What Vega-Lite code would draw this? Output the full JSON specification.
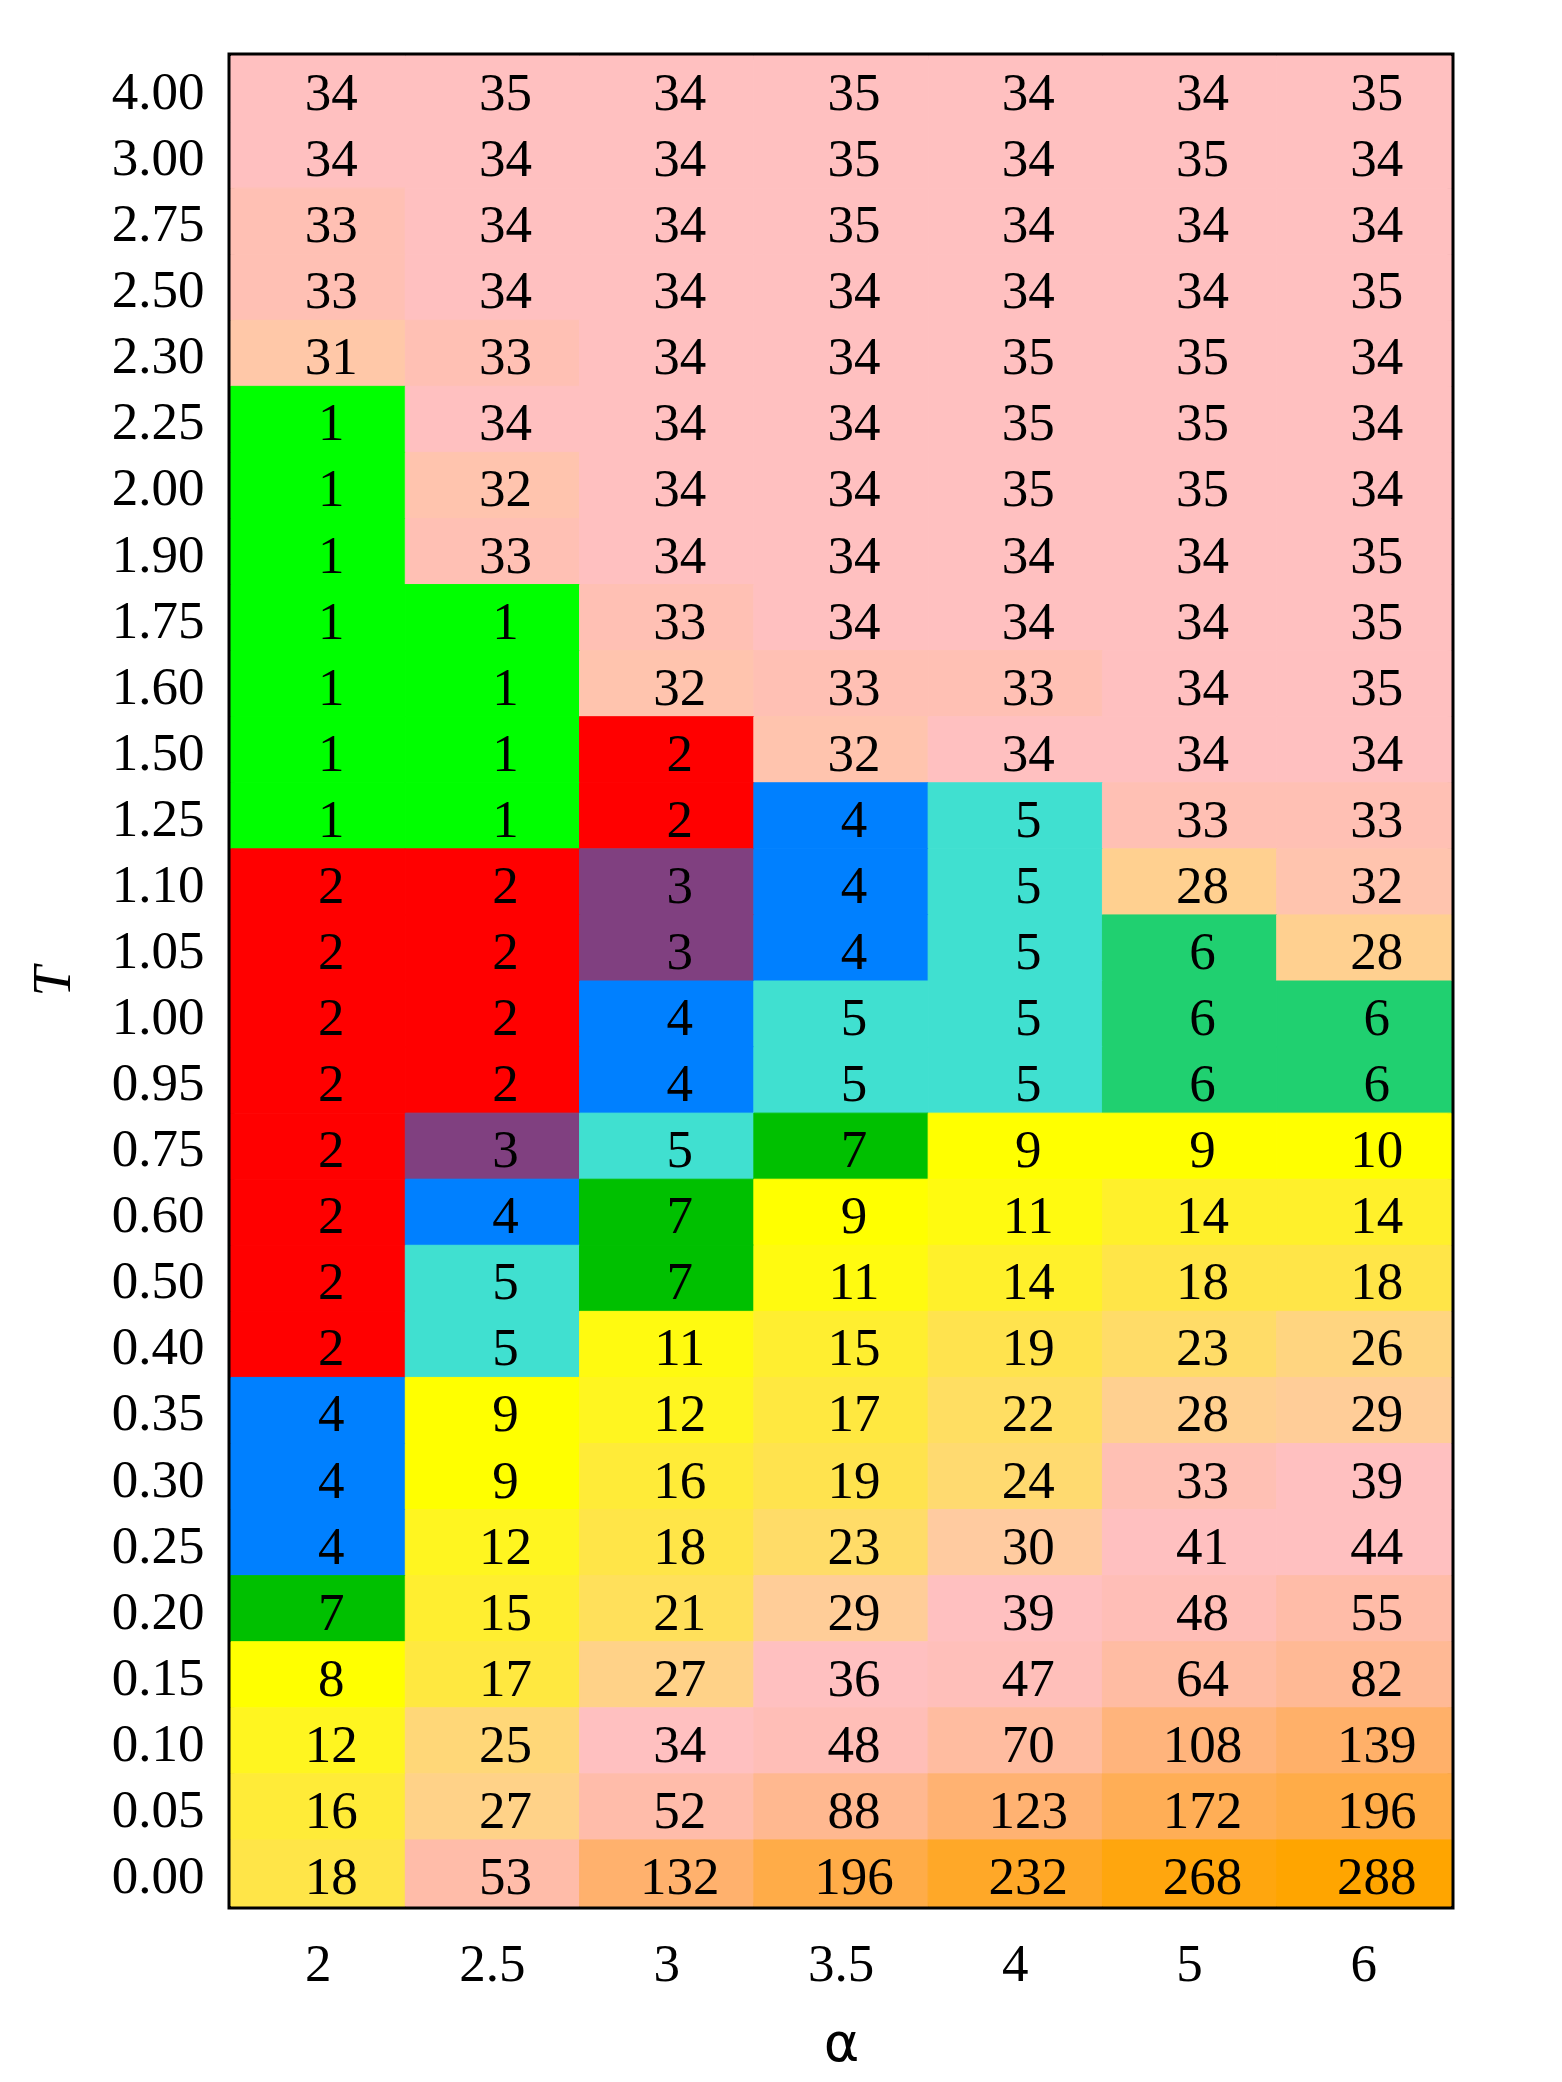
{
  "$schema": "https://vega.github.io/schema/vega-lite/v6.json",
  "width": 1220,
  "height": 1850,
  "autosize": {"type": "none"},
  "padding": {"left": 231, "top": 56, "right": 111, "bottom": 176},
  "background": "white",
  "config": {
    "view": {"stroke": "black", "strokeWidth": 7},
    "axis": {"labelFont": "Liberation Serif", "labelFontSize": 53, "labelColor": "black", "domain": false, "ticks": false, "grid": false, "titleColor": "black"}
  },
  "data": {"values": [
    {"T":"4.00","a":"2","v":34},{"T":"4.00","a":"2.5","v":35},{"T":"4.00","a":"3","v":34},{"T":"4.00","a":"3.5","v":35},{"T":"4.00","a":"4","v":34},{"T":"4.00","a":"5","v":34},{"T":"4.00","a":"6","v":35},
    {"T":"3.00","a":"2","v":34},{"T":"3.00","a":"2.5","v":34},{"T":"3.00","a":"3","v":34},{"T":"3.00","a":"3.5","v":35},{"T":"3.00","a":"4","v":34},{"T":"3.00","a":"5","v":35},{"T":"3.00","a":"6","v":34},
    {"T":"2.75","a":"2","v":33},{"T":"2.75","a":"2.5","v":34},{"T":"2.75","a":"3","v":34},{"T":"2.75","a":"3.5","v":35},{"T":"2.75","a":"4","v":34},{"T":"2.75","a":"5","v":34},{"T":"2.75","a":"6","v":34},
    {"T":"2.50","a":"2","v":33},{"T":"2.50","a":"2.5","v":34},{"T":"2.50","a":"3","v":34},{"T":"2.50","a":"3.5","v":34},{"T":"2.50","a":"4","v":34},{"T":"2.50","a":"5","v":34},{"T":"2.50","a":"6","v":35},
    {"T":"2.30","a":"2","v":31},{"T":"2.30","a":"2.5","v":33},{"T":"2.30","a":"3","v":34},{"T":"2.30","a":"3.5","v":34},{"T":"2.30","a":"4","v":35},{"T":"2.30","a":"5","v":35},{"T":"2.30","a":"6","v":34},
    {"T":"2.25","a":"2","v":1},{"T":"2.25","a":"2.5","v":34},{"T":"2.25","a":"3","v":34},{"T":"2.25","a":"3.5","v":34},{"T":"2.25","a":"4","v":35},{"T":"2.25","a":"5","v":35},{"T":"2.25","a":"6","v":34},
    {"T":"2.00","a":"2","v":1},{"T":"2.00","a":"2.5","v":32},{"T":"2.00","a":"3","v":34},{"T":"2.00","a":"3.5","v":34},{"T":"2.00","a":"4","v":35},{"T":"2.00","a":"5","v":35},{"T":"2.00","a":"6","v":34},
    {"T":"1.90","a":"2","v":1},{"T":"1.90","a":"2.5","v":33},{"T":"1.90","a":"3","v":34},{"T":"1.90","a":"3.5","v":34},{"T":"1.90","a":"4","v":34},{"T":"1.90","a":"5","v":34},{"T":"1.90","a":"6","v":35},
    {"T":"1.75","a":"2","v":1},{"T":"1.75","a":"2.5","v":1},{"T":"1.75","a":"3","v":33},{"T":"1.75","a":"3.5","v":34},{"T":"1.75","a":"4","v":34},{"T":"1.75","a":"5","v":34},{"T":"1.75","a":"6","v":35},
    {"T":"1.60","a":"2","v":1},{"T":"1.60","a":"2.5","v":1},{"T":"1.60","a":"3","v":32},{"T":"1.60","a":"3.5","v":33},{"T":"1.60","a":"4","v":33},{"T":"1.60","a":"5","v":34},{"T":"1.60","a":"6","v":35},
    {"T":"1.50","a":"2","v":1},{"T":"1.50","a":"2.5","v":1},{"T":"1.50","a":"3","v":2},{"T":"1.50","a":"3.5","v":32},{"T":"1.50","a":"4","v":34},{"T":"1.50","a":"5","v":34},{"T":"1.50","a":"6","v":34},
    {"T":"1.25","a":"2","v":1},{"T":"1.25","a":"2.5","v":1},{"T":"1.25","a":"3","v":2},{"T":"1.25","a":"3.5","v":4},{"T":"1.25","a":"4","v":5},{"T":"1.25","a":"5","v":33},{"T":"1.25","a":"6","v":33},
    {"T":"1.10","a":"2","v":2},{"T":"1.10","a":"2.5","v":2},{"T":"1.10","a":"3","v":3},{"T":"1.10","a":"3.5","v":4},{"T":"1.10","a":"4","v":5},{"T":"1.10","a":"5","v":28},{"T":"1.10","a":"6","v":32},
    {"T":"1.05","a":"2","v":2},{"T":"1.05","a":"2.5","v":2},{"T":"1.05","a":"3","v":3},{"T":"1.05","a":"3.5","v":4},{"T":"1.05","a":"4","v":5},{"T":"1.05","a":"5","v":6},{"T":"1.05","a":"6","v":28},
    {"T":"1.00","a":"2","v":2},{"T":"1.00","a":"2.5","v":2},{"T":"1.00","a":"3","v":4},{"T":"1.00","a":"3.5","v":5},{"T":"1.00","a":"4","v":5},{"T":"1.00","a":"5","v":6},{"T":"1.00","a":"6","v":6},
    {"T":"0.95","a":"2","v":2},{"T":"0.95","a":"2.5","v":2},{"T":"0.95","a":"3","v":4},{"T":"0.95","a":"3.5","v":5},{"T":"0.95","a":"4","v":5},{"T":"0.95","a":"5","v":6},{"T":"0.95","a":"6","v":6},
    {"T":"0.75","a":"2","v":2},{"T":"0.75","a":"2.5","v":3},{"T":"0.75","a":"3","v":5},{"T":"0.75","a":"3.5","v":7},{"T":"0.75","a":"4","v":9},{"T":"0.75","a":"5","v":9},{"T":"0.75","a":"6","v":10},
    {"T":"0.60","a":"2","v":2},{"T":"0.60","a":"2.5","v":4},{"T":"0.60","a":"3","v":7},{"T":"0.60","a":"3.5","v":9},{"T":"0.60","a":"4","v":11},{"T":"0.60","a":"5","v":14},{"T":"0.60","a":"6","v":14},
    {"T":"0.50","a":"2","v":2},{"T":"0.50","a":"2.5","v":5},{"T":"0.50","a":"3","v":7},{"T":"0.50","a":"3.5","v":11},{"T":"0.50","a":"4","v":14},{"T":"0.50","a":"5","v":18},{"T":"0.50","a":"6","v":18},
    {"T":"0.40","a":"2","v":2},{"T":"0.40","a":"2.5","v":5},{"T":"0.40","a":"3","v":11},{"T":"0.40","a":"3.5","v":15},{"T":"0.40","a":"4","v":19},{"T":"0.40","a":"5","v":23},{"T":"0.40","a":"6","v":26},
    {"T":"0.35","a":"2","v":4},{"T":"0.35","a":"2.5","v":9},{"T":"0.35","a":"3","v":12},{"T":"0.35","a":"3.5","v":17},{"T":"0.35","a":"4","v":22},{"T":"0.35","a":"5","v":28},{"T":"0.35","a":"6","v":29},
    {"T":"0.30","a":"2","v":4},{"T":"0.30","a":"2.5","v":9},{"T":"0.30","a":"3","v":16},{"T":"0.30","a":"3.5","v":19},{"T":"0.30","a":"4","v":24},{"T":"0.30","a":"5","v":33},{"T":"0.30","a":"6","v":39},
    {"T":"0.25","a":"2","v":4},{"T":"0.25","a":"2.5","v":12},{"T":"0.25","a":"3","v":18},{"T":"0.25","a":"3.5","v":23},{"T":"0.25","a":"4","v":30},{"T":"0.25","a":"5","v":41},{"T":"0.25","a":"6","v":44},
    {"T":"0.20","a":"2","v":7},{"T":"0.20","a":"2.5","v":15},{"T":"0.20","a":"3","v":21},{"T":"0.20","a":"3.5","v":29},{"T":"0.20","a":"4","v":39},{"T":"0.20","a":"5","v":48},{"T":"0.20","a":"6","v":55},
    {"T":"0.15","a":"2","v":8},{"T":"0.15","a":"2.5","v":17},{"T":"0.15","a":"3","v":27},{"T":"0.15","a":"3.5","v":36},{"T":"0.15","a":"4","v":47},{"T":"0.15","a":"5","v":64},{"T":"0.15","a":"6","v":82},
    {"T":"0.10","a":"2","v":12},{"T":"0.10","a":"2.5","v":25},{"T":"0.10","a":"3","v":34},{"T":"0.10","a":"3.5","v":48},{"T":"0.10","a":"4","v":70},{"T":"0.10","a":"5","v":108},{"T":"0.10","a":"6","v":139},
    {"T":"0.05","a":"2","v":16},{"T":"0.05","a":"2.5","v":27},{"T":"0.05","a":"3","v":52},{"T":"0.05","a":"3.5","v":88},{"T":"0.05","a":"4","v":123},{"T":"0.05","a":"5","v":172},{"T":"0.05","a":"6","v":196},
    {"T":"0.00","a":"2","v":18},{"T":"0.00","a":"2.5","v":53},{"T":"0.00","a":"3","v":132},{"T":"0.00","a":"3.5","v":196},{"T":"0.00","a":"4","v":232},{"T":"0.00","a":"5","v":268},{"T":"0.00","a":"6","v":288}
  ]},
  "encoding": {
    "x": {
      "field": "a", "type": "ordinal",
      "sort": ["2","2.5","3","3.5","4","5","6"],
      "scale": {"paddingInner": 0, "paddingOuter": 0},
      "axis": {"labelAngle": 0, "labelPadding": 32, "title": "α", "titleFont": "DejaVu Sans", "titleFontSize": 54, "titleFontWeight": "normal", "titleY": 154, "titleBaseline": "alphabetic"}
    },
    "y": {
      "field": "T", "type": "ordinal",
      "sort": ["4.00","3.00","2.75","2.50","2.30","2.25","2.00","1.90","1.75","1.60","1.50","1.25","1.10","1.05","1.00","0.95","0.75","0.60","0.50","0.40","0.35","0.30","0.25","0.20","0.15","0.10","0.05","0.00"],
      "scale": {"paddingInner": 0, "paddingOuter": 0},
      "axis": {"labelPadding": 27, "labelOffset": 4, "title": "T", "titleFont": "Liberation Serif", "titleFontStyle": "italic", "titleFontWeight": "normal", "titleFontSize": 54, "titleX": -178, "titleBaseline": "middle"}
    }
  },
  "layer": [
    {
      "mark": {"type": "rect", "strokeWidth": 1},
      "encoding": {
        "color": {
          "field": "v", "type": "quantitative", "legend": null,
          "scale": {
            "interpolate": "rgb",
            "domain": [1,2,3,4,5,6,7,8,10,12,15,18,23,28,31,33,34,45,52,70,88,110,140,196,232,288],
            "range": ["#00ff00","#ff0000","#804080","#0080ff","#40e0d0","#20d070","#00c000","#ffff00","#ffff00","#fff520","#ffee30","#ffe548","#ffdc68","#ffd090","#ffc8a8","#ffc0b4","#ffc0c0","#ffc0c0","#ffbcaa","#ffbca0","#ffb890","#ffb47a","#ffb068","#ffac48","#ffa828","#ffa500"]
          }
        },
        "stroke": {
          "field": "v", "type": "quantitative", "legend": null,
          "scale": {
            "interpolate": "rgb",
            "domain": [1,2,3,4,5,6,7,8,10,12,15,18,23,28,31,33,34,45,52,70,88,110,140,196,232,288],
            "range": ["#00ff00","#ff0000","#804080","#0080ff","#40e0d0","#20d070","#00c000","#ffff00","#ffff00","#fff520","#ffee30","#ffe548","#ffdc68","#ffd090","#ffc8a8","#ffc0b4","#ffc0c0","#ffc0c0","#ffbcaa","#ffbca0","#ffb890","#ffb47a","#ffb068","#ffac48","#ffa828","#ffa500"]
          }
        }
      }
    },
    {
      "mark": {"type": "text", "font": "Liberation Serif", "fontSize": 53, "color": "black", "align": "center", "baseline": "middle", "dx": 13, "dy": 5},
      "encoding": {"text": {"field": "v", "type": "quantitative"}}
    }
  ]
}
